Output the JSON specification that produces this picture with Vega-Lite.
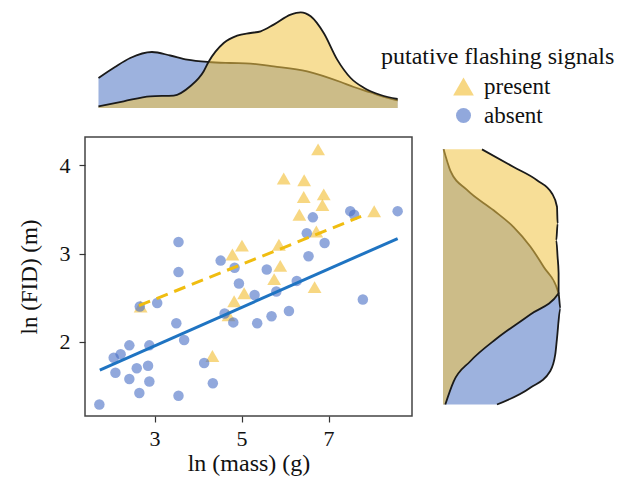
{
  "$schema": "https://vega.github.io/schema/vega-lite/v6.json",
  "padding": {"left": 17, "top": 8, "right": 5, "bottom": 0},
  "background": "white",
  "config": {
    "font": "Liberation Serif",
    "view": {"stroke": null},
    "legend": {"titleFont": "Liberation Serif", "labelFont": "Liberation Serif"}
  },
  "datasets": {
    "points": [
      {"mass": 1.73, "fid": 1.29, "group": "absent"},
      {"mass": 2.06, "fid": 1.82, "group": "absent"},
      {"mass": 2.22, "fid": 1.86, "group": "absent"},
      {"mass": 2.42, "fid": 1.96, "group": "absent"},
      {"mass": 2.10, "fid": 1.65, "group": "absent"},
      {"mass": 2.42, "fid": 1.58, "group": "absent"},
      {"mass": 2.59, "fid": 1.70, "group": "absent"},
      {"mass": 2.85, "fid": 1.73, "group": "absent"},
      {"mass": 2.88, "fid": 1.96, "group": "absent"},
      {"mass": 2.88, "fid": 1.55, "group": "absent"},
      {"mass": 2.65, "fid": 1.42, "group": "absent"},
      {"mass": 2.66, "fid": 2.40, "group": "absent"},
      {"mass": 3.06, "fid": 2.44, "group": "absent"},
      {"mass": 3.55, "fid": 3.13, "group": "absent"},
      {"mass": 3.55, "fid": 2.79, "group": "absent"},
      {"mass": 3.50, "fid": 2.21, "group": "absent"},
      {"mass": 3.68, "fid": 2.02, "group": "absent"},
      {"mass": 3.55, "fid": 1.39, "group": "absent"},
      {"mass": 4.14, "fid": 1.76, "group": "absent"},
      {"mass": 4.34, "fid": 1.53, "group": "absent"},
      {"mass": 4.52, "fid": 2.92, "group": "absent"},
      {"mass": 4.84, "fid": 2.84, "group": "absent"},
      {"mass": 4.94, "fid": 2.66, "group": "absent"},
      {"mass": 4.61, "fid": 2.32, "group": "absent"},
      {"mass": 4.81, "fid": 2.22, "group": "absent"},
      {"mass": 6.64, "fid": 3.41, "group": "absent"},
      {"mass": 7.50, "fid": 3.48, "group": "absent"},
      {"mass": 7.59, "fid": 3.44, "group": "absent"},
      {"mass": 8.59, "fid": 3.48, "group": "absent"},
      {"mass": 6.50, "fid": 3.23, "group": "absent"},
      {"mass": 6.91, "fid": 3.12, "group": "absent"},
      {"mass": 6.54, "fid": 2.97, "group": "absent"},
      {"mass": 5.58, "fid": 2.82, "group": "absent"},
      {"mass": 6.27, "fid": 2.69, "group": "absent"},
      {"mass": 5.80, "fid": 2.57, "group": "absent"},
      {"mass": 5.30, "fid": 2.53, "group": "absent"},
      {"mass": 6.09, "fid": 2.35, "group": "absent"},
      {"mass": 5.69, "fid": 2.29, "group": "absent"},
      {"mass": 5.36, "fid": 2.21, "group": "absent"},
      {"mass": 7.79, "fid": 2.48, "group": "absent"},
      {"mass": 2.68, "fid": 2.40, "group": "present"},
      {"mass": 4.79, "fid": 2.99, "group": "present"},
      {"mass": 5.01, "fid": 3.09, "group": "present"},
      {"mass": 4.83, "fid": 2.46, "group": "present"},
      {"mass": 4.70, "fid": 2.30, "group": "present"},
      {"mass": 5.06, "fid": 2.55, "group": "present"},
      {"mass": 4.33, "fid": 1.84, "group": "present"},
      {"mass": 6.76, "fid": 4.18, "group": "present"},
      {"mass": 5.97, "fid": 3.85, "group": "present"},
      {"mass": 6.44, "fid": 3.83, "group": "present"},
      {"mass": 6.43, "fid": 3.64, "group": "present"},
      {"mass": 6.89, "fid": 3.67, "group": "present"},
      {"mass": 6.86, "fid": 3.55, "group": "present"},
      {"mass": 6.33, "fid": 3.44, "group": "present"},
      {"mass": 8.05, "fid": 3.48, "group": "present"},
      {"mass": 6.72, "fid": 3.25, "group": "present"},
      {"mass": 5.86, "fid": 3.10, "group": "present"},
      {"mass": 5.89, "fid": 2.86, "group": "present"},
      {"mass": 5.75, "fid": 2.71, "group": "present"},
      {"mass": 6.68, "fid": 2.62, "group": "present"}
    ],
    "fitAbsent": [
      {"mass": 1.74, "fid": 1.68},
      {"mass": 8.59, "fid": 3.17}
    ],
    "fitPresent": [
      {"mass": 2.64, "fid": 2.41},
      {"mass": 7.75, "fid": 3.42}
    ],
    "topd": [
      {"mass": 1.71, "dens": 30, "group": "absent"},
      {"mass": 2.09, "dens": 41, "group": "absent"},
      {"mass": 2.44, "dens": 50, "group": "absent"},
      {"mass": 2.94, "dens": 56, "group": "absent"},
      {"mass": 3.36, "dens": 52.5, "group": "absent"},
      {"mass": 3.75, "dens": 48.4, "group": "absent"},
      {"mass": 4.24, "dens": 46, "group": "absent"},
      {"mass": 4.74, "dens": 45, "group": "absent"},
      {"mass": 5.21, "dens": 44.4, "group": "absent"},
      {"mass": 5.74, "dens": 41.7, "group": "absent"},
      {"mass": 6.51, "dens": 36.7, "group": "absent"},
      {"mass": 7.28, "dens": 26, "group": "absent"},
      {"mass": 7.58, "dens": 21, "group": "absent"},
      {"mass": 7.97, "dens": 15.5, "group": "absent"},
      {"mass": 8.20, "dens": 12, "group": "absent"},
      {"mass": 8.59, "dens": 7.5, "group": "absent"},
      {"mass": 1.71, "dens": 1.7, "group": "present"},
      {"mass": 2.29, "dens": 6.7, "group": "present"},
      {"mass": 2.90, "dens": 11.7, "group": "present"},
      {"mass": 3.44, "dens": 12.4, "group": "present"},
      {"mass": 3.82, "dens": 21.7, "group": "present"},
      {"mass": 4.13, "dens": 36.7, "group": "present"},
      {"mass": 4.24, "dens": 46, "group": "present"},
      {"mass": 4.59, "dens": 65, "group": "present"},
      {"mass": 4.90, "dens": 72.4, "group": "present"},
      {"mass": 5.21, "dens": 75, "group": "present"},
      {"mass": 5.44, "dens": 76.7, "group": "present"},
      {"mass": 5.74, "dens": 83.4, "group": "present"},
      {"mass": 6.13, "dens": 93.4, "group": "present"},
      {"mass": 6.36, "dens": 95.7, "group": "present"},
      {"mass": 6.59, "dens": 91.7, "group": "present"},
      {"mass": 6.89, "dens": 75, "group": "present"},
      {"mass": 7.20, "dens": 48.4, "group": "present"},
      {"mass": 7.51, "dens": 30, "group": "present"},
      {"mass": 7.82, "dens": 20, "group": "present"},
      {"mass": 8.20, "dens": 13, "group": "present"},
      {"mass": 8.59, "dens": 9, "group": "present"}
    ],
    "rightd": [
      {"fid": 4.18, "dens": 0.6, "group": "absent"},
      {"fid": 3.94, "dens": 7.3, "group": "absent"},
      {"fid": 3.72, "dens": 24, "group": "absent"},
      {"fid": 3.49, "dens": 50.6, "group": "absent"},
      {"fid": 3.30, "dens": 70.6, "group": "absent"},
      {"fid": 3.08, "dens": 87.3, "group": "absent"},
      {"fid": 2.85, "dens": 100.6, "group": "absent"},
      {"fid": 2.55, "dens": 115.6, "group": "absent"},
      {"fid": 2.38, "dens": 117.3, "group": "absent"},
      {"fid": 2.04, "dens": 114, "group": "absent"},
      {"fid": 1.86, "dens": 112.3, "group": "absent"},
      {"fid": 1.67, "dens": 107.3, "group": "absent"},
      {"fid": 1.48, "dens": 87.3, "group": "absent"},
      {"fid": 1.29, "dens": 54, "group": "absent"},
      {"fid": 4.18, "dens": 39, "group": "present"},
      {"fid": 3.98, "dens": 70.6, "group": "present"},
      {"fid": 3.83, "dens": 94, "group": "present"},
      {"fid": 3.68, "dens": 109, "group": "present"},
      {"fid": 3.53, "dens": 114, "group": "present"},
      {"fid": 3.34, "dens": 114.6, "group": "present"},
      {"fid": 3.15, "dens": 113.3, "group": "present"},
      {"fid": 2.96, "dens": 114.6, "group": "present"},
      {"fid": 2.78, "dens": 115.6, "group": "present"},
      {"fid": 2.55, "dens": 115.6, "group": "present"},
      {"fid": 2.31, "dens": 87.3, "group": "present"},
      {"fid": 2.04, "dens": 54, "group": "present"},
      {"fid": 1.78, "dens": 27.3, "group": "present"},
      {"fid": 1.55, "dens": 10.6, "group": "present"},
      {"fid": 1.29, "dens": 2.3, "group": "present"}
    ]
  },
  "vconcat": [
    {
      "width": 327,
      "height": 100,
      "data": {"name": "topd"},
      "encoding": {
        "x": {"field": "mass", "type": "quantitative", "axis": null, "scale": {"domain": [1.4, 8.92], "nice": false, "zero": false}},
        "y": {"field": "dens", "type": "quantitative", "axis": null, "scale": {"domain": [0, 100], "nice": false}}
      },
      "layer": [
        {"transform": [{"filter": "datum.group === 'absent'"}], "mark": {"type": "area", "color": "#4d73c3", "opacity": 0.55, "interpolate": "monotone"}},
        {"transform": [{"filter": "datum.group === 'absent'"}], "mark": {"type": "line", "color": "#1a1a1a", "strokeWidth": 1.8, "interpolate": "monotone"}},
        {"transform": [{"filter": "datum.group === 'present'"}], "mark": {"type": "area", "color": "#f1c445", "opacity": 0.56, "interpolate": "monotone"}},
        {"transform": [{"filter": "datum.group === 'present'"}], "mark": {"type": "line", "color": "#1a1a1a", "strokeWidth": 1.8, "interpolate": "monotone"}}
      ]
    },
    {
      "spacing": 27,
      "hconcat": [
        {
          "width": 327,
          "height": 279,
          "view": {"stroke": "#444", "strokeWidth": 1.5},
          "encoding": {
            "x": {"field": "mass", "type": "quantitative", "scale": {"domain": [1.4, 8.92], "nice": false, "zero": false},
              "axis": {"values": [3, 5, 7], "format": "d", "grid": false, "domain": false, "tickSize": 6, "tickColor": "#333", "tickWidth": 1.2,
                "labelFontSize": 22, "labelColor": "#111", "labelPadding": 6, "title": "ln (mass) (g)", "titleFontSize": 24, "titleFontWeight": "normal", "titleColor": "#111", "titlePadding": 2}},
            "y": {"field": "fid", "type": "quantitative", "scale": {"domain": [1.16, 4.32], "nice": false, "zero": false},
              "axis": {"values": [2, 3, 4], "format": "d", "grid": false, "domain": false, "tickSize": 6, "tickColor": "#333", "tickWidth": 1.2,
                "labelFontSize": 22, "labelColor": "#111", "labelPadding": 9, "title": "ln (FID) (m)", "titleFontSize": 23, "titleFontWeight": "normal", "titleColor": "#111", "titlePadding": 18}}
          },
          "layer": [
            {
              "data": {"name": "points"},
              "transform": [{"filter": "datum.group === 'present'"}],
              "mark": {"type": "point", "filled": true, "opacity": 0.6, "size": 190},
              "encoding": {
                "color": {"field": "group", "type": "nominal", "scale": {"domain": ["present", "absent"], "range": ["#f2bc2f", "#486ec5"]},
                  "legend": {"title": "putative flashing signals", "orient": "none", "legendX": 296, "legendY": 37,
                    "titleFontSize": 24, "titleFontWeight": "normal", "titleColor": "#111", "titlePadding": 6, "titleLimit": 400,
                    "labelFontSize": 23, "labelColor": "#111", "labelOffset": 9, "symbolSize": 430, "symbolOpacity": 0.6, "symbolStrokeWidth": 0,
                    "symbolOffset": 71, "rowPadding": 5,
                    "encode": {"symbols": {"update": {"size": {"signal": "datum.value === 'present' ? 430 : 225"}}}}}},
                "shape": {"field": "group", "type": "nominal", "scale": {"domain": ["present", "absent"], "range": ["triangle-up", "circle"]}}
              }
            },
            {
              "data": {"name": "points"},
              "transform": [{"filter": "datum.group === 'absent'"}],
              "mark": {"type": "point", "filled": true, "opacity": 0.6, "size": 110},
              "encoding": {
                "color": {"field": "group", "type": "nominal"},
                "shape": {"field": "group", "type": "nominal"}
              }
            },
            {
              "data": {"name": "fitAbsent"},
              "mark": {"type": "line", "color": "#1f74c2", "strokeWidth": 3}
            },
            {
              "data": {"name": "fitPresent"},
              "mark": {"type": "line", "color": "#f0bd10", "strokeWidth": 3, "strokeDash": [12, 7]}
            }
          ]
        },
        {
          "width": 120,
          "height": 279,
          "data": {"name": "rightd"},
          "layer": [
            {"transform": [{"filter": "datum.group === 'absent'"}],
             "mark": {"type": "area", "orient": "horizontal", "color": "#4d73c3", "opacity": 0.55, "interpolate": "monotone"},
             "encoding": {
               "y": {"field": "fid", "type": "quantitative", "axis": null, "scale": {"domain": [1.16, 4.32], "nice": false, "zero": false}},
               "x": {"field": "dens", "type": "quantitative", "axis": null, "scale": {"domain": [0, 120], "nice": false}},
               "x2": {"datum": 0}
             }},
            {"transform": [{"filter": "datum.group === 'absent'"}],
             "mark": {"type": "line", "color": "#1a1a1a", "strokeWidth": 1.8, "interpolate": "monotone"},
             "encoding": {
               "y": {"field": "fid", "type": "quantitative"},
               "x": {"field": "dens", "type": "quantitative"},
               "order": {"field": "fid", "type": "quantitative"}
             }},
            {"transform": [{"filter": "datum.group === 'present'"}],
             "mark": {"type": "area", "orient": "horizontal", "color": "#f1c445", "opacity": 0.56, "interpolate": "monotone"},
             "encoding": {
               "y": {"field": "fid", "type": "quantitative"},
               "x": {"field": "dens", "type": "quantitative"},
               "x2": {"datum": 0}
             }},
            {"transform": [{"filter": "datum.group === 'present'"}],
             "mark": {"type": "line", "color": "#1a1a1a", "strokeWidth": 1.8, "interpolate": "monotone"},
             "encoding": {
               "y": {"field": "fid", "type": "quantitative"},
               "x": {"field": "dens", "type": "quantitative"},
               "order": {"field": "fid", "type": "quantitative"}
             }}
          ]
        }
      ]
    }
  ],
  "spacing": 26
}
